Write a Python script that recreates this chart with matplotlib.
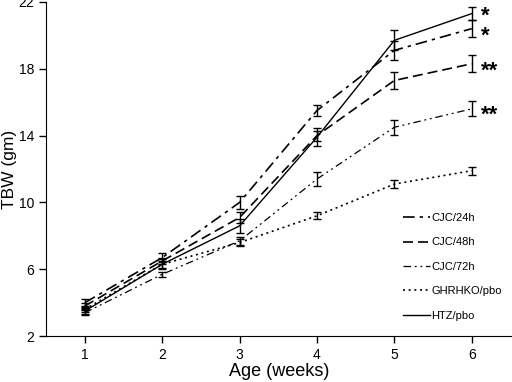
import numpy as np
import matplotlib.pyplot as plt

plt.rcParams['font.family'] = ['Liberation Sans', 'DejaVu Sans']

weeks = [1, 2, 3, 4, 5, 6]

cjc24 = [4.0, 6.7, 10.0, 15.5, 19.1, 20.4]
cjc24_err = [0.2, 0.25, 0.4, 0.35, 0.55, 0.5]
cjc48 = [3.8, 6.5, 9.1, 14.0, 17.3, 18.3]
cjc48_err = [0.2, 0.2, 0.35, 0.3, 0.5, 0.5]
cjc72 = [3.4, 5.7, 7.7, 11.4, 14.5, 15.6]
cjc72_err = [0.15, 0.15, 0.25, 0.4, 0.45, 0.45]
ghrhko = [3.6, 6.3, 7.6, 9.2, 11.1, 11.9]
ghrhko_err = [0.15, 0.2, 0.2, 0.2, 0.25, 0.25]
htz = [3.5, 6.3, 8.6, 13.9, 19.7, 21.3]
htz_err = [0.2, 0.3, 0.4, 0.55, 0.6, 0.4]

labels = ['CJC/24h', 'CJC/48h', 'CJC/72h', 'GHRHKO/pbo', 'HTZ/pbo']
stars = ['*', '*', '**', '**']
star_vals = [21.6, 20.4, 18.3, 15.7]

fig = plt.figure(figsize=(5.12, 3.82), dpi=100)
ax = fig.add_axes([0.09, 0.12, 0.91, 0.875])

series = [
    (cjc24, cjc24_err, (0, (7, 3, 2, 3)), 1.2),
    (cjc48, cjc48_err, (0, (6, 3)), 1.2),
    (cjc72, cjc72_err, (0, (6, 3, 1.5, 3, 1.5, 3)), 0.9),
    (ghrhko, ghrhko_err, (0, (1.2, 2.2)), 1.2),
    (htz, htz_err, '-', 1.0),
]

for (vals, err, ls, lw), lab in zip(series, labels):
    ax.plot(weeks, vals, color='black', linestyle=ls, linewidth=lw, label=lab)
    ax.errorbar(weeks, vals, yerr=err, fmt='none', ecolor='black',
                elinewidth=1.0, capsize=3, capthick=1.0)

# asterisk glyph sits high in its box, so nudge down
for s, v in zip(stars, star_vals):
    ax.text(6.12, v - 0.45, s, fontsize=16, fontweight='bold', va='center', ha='left')

ax.set_xlim(0.5, 6.52)
ax.set_ylim(2, 22)
ax.set_xticks(weeks)
ax.set_yticks([2, 6, 10, 14, 18, 22])
ax.tick_params(labelsize=10, direction='out', length=5, width=1)
ax.spines['top'].set_visible(False)
ax.spines['right'].set_visible(False)
ax.set_xlabel('Age (weeks)', fontsize=13, labelpad=1)
ax.set_ylabel('TBW (gm)', fontsize=12.5)
ax.yaxis.set_label_coords(-0.062, 0.5)

ax.legend(loc='lower right', bbox_to_anchor=(1.0, 0.016), frameon=False,
          fontsize=8, handlelength=2.5, handletextpad=0.1, labelspacing=1.3)

fig.savefig('out.png', dpi=100)
